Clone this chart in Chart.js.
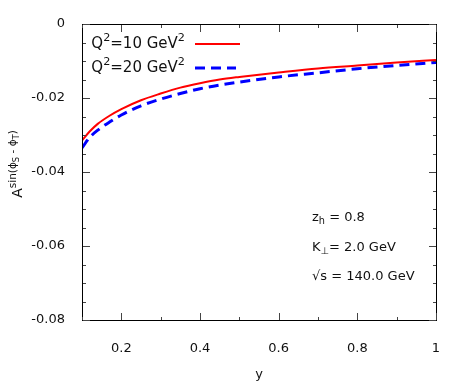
<!DOCTYPE html>
<html>
<head>
<meta charset="utf-8">
<script src="https://cdn.jsdelivr.net/npm/chart.js@4/dist/chart.umd.min.js"></script>
<style>
  html, body { margin: 0; padding: 0; background: #fff; }
  #wrap { width: 463px; height: 382px; }
</style>
</head>
<body>
<div id="wrap"><canvas id="asymChart" width="463" height="382"></canvas></div>
<script>
// valori
const yVals = [0.1, 0.12, 0.14, 0.17, 0.2, 0.25, 0.3, 0.35, 0.4, 0.45, 0.5, 0.6, 0.7, 0.8, 0.9, 1.0];
const asymQ10 = [-0.0315, -0.0290, -0.0270, -0.0248, -0.0230, -0.0206, -0.0188, -0.0172, -0.0160, -0.0150, -0.0143, -0.0131, -0.0120, -0.0112, -0.0104, -0.0097];
const asymQ20 = [-0.0335, -0.0306, -0.0287, -0.0265, -0.0246, -0.0221, -0.0203, -0.0188, -0.0175, -0.0165, -0.0157, -0.0143, -0.0132, -0.0121, -0.0112, -0.0104];
const xTickVals = [0.2, 0.4, 0.6, 0.8, 1];
const xMinorVals = [0.1, 0.3, 0.5, 0.7, 0.9];
const yTickVals = [-0.08, -0.06, -0.04, -0.02, 0];
const seriesLabels = [['Q', '2', '=10 GeV', '2'], ['Q', '2', '=20 GeV', '2']];
const notes = [
    [['z', 'n'], ['h', 'sub'], [' = 0.8', 'n']],
    [['K', 'n'], ['\u22A5', 'sub'], ['= 2.0 GeV', 'n']],
    [['\u221As = 140.0 GeV', 'n']]
];

const FONT = "'DejaVu Sans', sans-serif";

// testo con apici/pedici
function partSize(p, size) {
    if (p[1] === 'n') return size;
    if (p[1] === 'supsub') return size * 0.6;
    return size * 0.75;
}
function richWidth(c, parts, size) {
    let w = 0;
    parts.forEach(p => {
        c.font = partSize(p, size) + 'px ' + FONT;
        w += c.measureText(p[0]).width;
    });
    return w;
}
function drawRich(c, parts, x, y, size) {
    let cx = x;
    parts.forEach(p => {
        let dy = 0;
        if (p[1] === 'sup') dy = -size * 0.4;
        if (p[1] === 'sub') dy = size * 0.25;
        if (p[1] === 'supsub') dy = -size * 0.25;
        c.font = partSize(p, size) + 'px ' + FONT;
        c.fillText(p[0], cx, y + dy);
        cx += c.measureText(p[0]).width;
    });
}

const framePlugin = {
    id: 'frame',
    afterDraw(chart) {
        const c = chart.ctx;
        const xs = chart.scales.x, ys = chart.scales.y;
        const L = Math.round(xs.left), R = Math.round(xs.right);
        const T = Math.round(ys.top), B = Math.round(ys.bottom);
        c.save();
        c.setLineDash([]);

        // cornice (rettangoli pieni)
        c.fillStyle = '#000';
        c.fillRect(L, T, R - L + 1, 1);
        c.fillRect(L, B, R - L + 1, 1);
        c.fillRect(L, T, 1, B - T + 1);
        c.fillRect(R, T, 1, B - T + 1);

        // tacche interne
        c.fillStyle = '#444';
        xTickVals.concat(xMinorVals).forEach(v => {
            const len = xTickVals.includes(v) ? 7 : 3;
            const px = Math.round(xs.getPixelForValue(v));
            c.fillRect(px, B - len, 1, len);
            c.fillRect(px, T + 1, 1, len);
        });
        for (let k = 0; k <= 16; k++) {
            const v = -0.08 + k * 0.005;
            const len = k % 4 === 0 ? 7 : 3;
            const py = Math.round(ys.getPixelForValue(v));
            c.fillRect(L + 1, py, len, 1);
            c.fillRect(R - len, py, len, 1);
        }

        // legenda
        c.fillStyle = '#111';
        c.textBaseline = 'middle';
        c.textAlign = 'left';
        const legY = [44, 68];
        chart.data.datasets.forEach((ds, i) => {
            const lab = seriesLabels[i];
            const parts = [[lab[0], 'n'], [lab[1], 'sup'], [lab[2], 'n'], [lab[3], 'sup']];
            const w = richWidth(c, parts, 15);
            drawRich(c, parts, 185 - w, legY[i], 15);
            c.strokeStyle = ds.borderColor;
            c.lineWidth = ds.borderWidth;
            c.setLineDash(ds.borderDash || []);
            c.beginPath();
            c.moveTo(195, legY[i]);
            c.lineTo(i === 0 ? 240 : 236, legY[i]);
            c.stroke();
            c.setLineDash([]);
        });

        // note
        const noteY = [218, 248, 277];
        notes.forEach((n, i) => drawRich(c, n, 312, noteY[i], 13));

        // titolo asse y
        c.translate(22, 164);
        c.rotate(-Math.PI / 2);
        c.textBaseline = 'alphabetic';
        const tparts = [['A', 'n'], ['sin(\u03D5', 'sup'], ['S', 'supsub'], [' - \u03D5', 'sup'], ['T', 'supsub'], [')', 'sup']];
        const tw = richWidth(c, tparts, 14);
        drawRich(c, tparts, -tw / 2, 0, 14);
        c.restore();
    }
};

const ctx = document.getElementById('asymChart').getContext('2d');
const asymChart = new Chart(ctx, {
    type: 'line',
    data: {
        datasets: [{
            label: 'Q2=10 GeV2',
            data: yVals.map((v, i) => ({ x: v, y: asymQ10[i] })),
            borderColor: '#ff0000',
            borderWidth: 2,
            pointRadius: 0,
            fill: false,
            cubicInterpolationMode: 'monotone'
        },
        {
            label: 'Q2=20 GeV2',
            data: yVals.map((v, i) => ({ x: v, y: asymQ20[i] })),
            borderColor: '#0000ff',
            borderWidth: 3,
            borderDash: [10, 6],
            pointRadius: 0,
            fill: false,
            cubicInterpolationMode: 'monotone'
        }]
    },
    options: {
        responsive: false,
        animation: false,
        layout: { padding: { left: 0, right: 27, top: 24, bottom: 0 } },
        plugins: { legend: { display: false }, tooltip: { enabled: false } },
        scales: {
            x: {
                type: 'linear',
                min: 0.1,
                max: 1,
                afterBuildTicks: s => { s.ticks = xTickVals.map(v => ({ value: v })); },
                afterFit: s => { s.height = 62; },
                grid: { display: false },
                border: { display: false },
                ticks: {
                    padding: 13,
                    color: '#111',
                    font: { family: FONT, size: 13 },
                    maxRotation: 0,
                    callback: v => String(+v.toFixed(1))
                },
                title: {
                    display: true,
                    text: 'y',
                    color: '#111',
                    font: { family: FONT, size: 13 },
                    padding: { top: 8, bottom: 0 }
                }
            },
            y: {
                min: -0.08,
                max: 0,
                afterBuildTicks: s => { s.ticks = yTickVals.map(v => ({ value: v })); },
                afterFit: s => { s.width = 82; },
                grid: { display: false },
                border: { display: false },
                ticks: {
                    padding: 9,
                    color: '#111',
                    font: { family: FONT, size: 13 },
                    callback: v => String(+v.toFixed(2))
                }
            }
        }
    },
    plugins: [framePlugin]
});
</script>
</body>
</html>
